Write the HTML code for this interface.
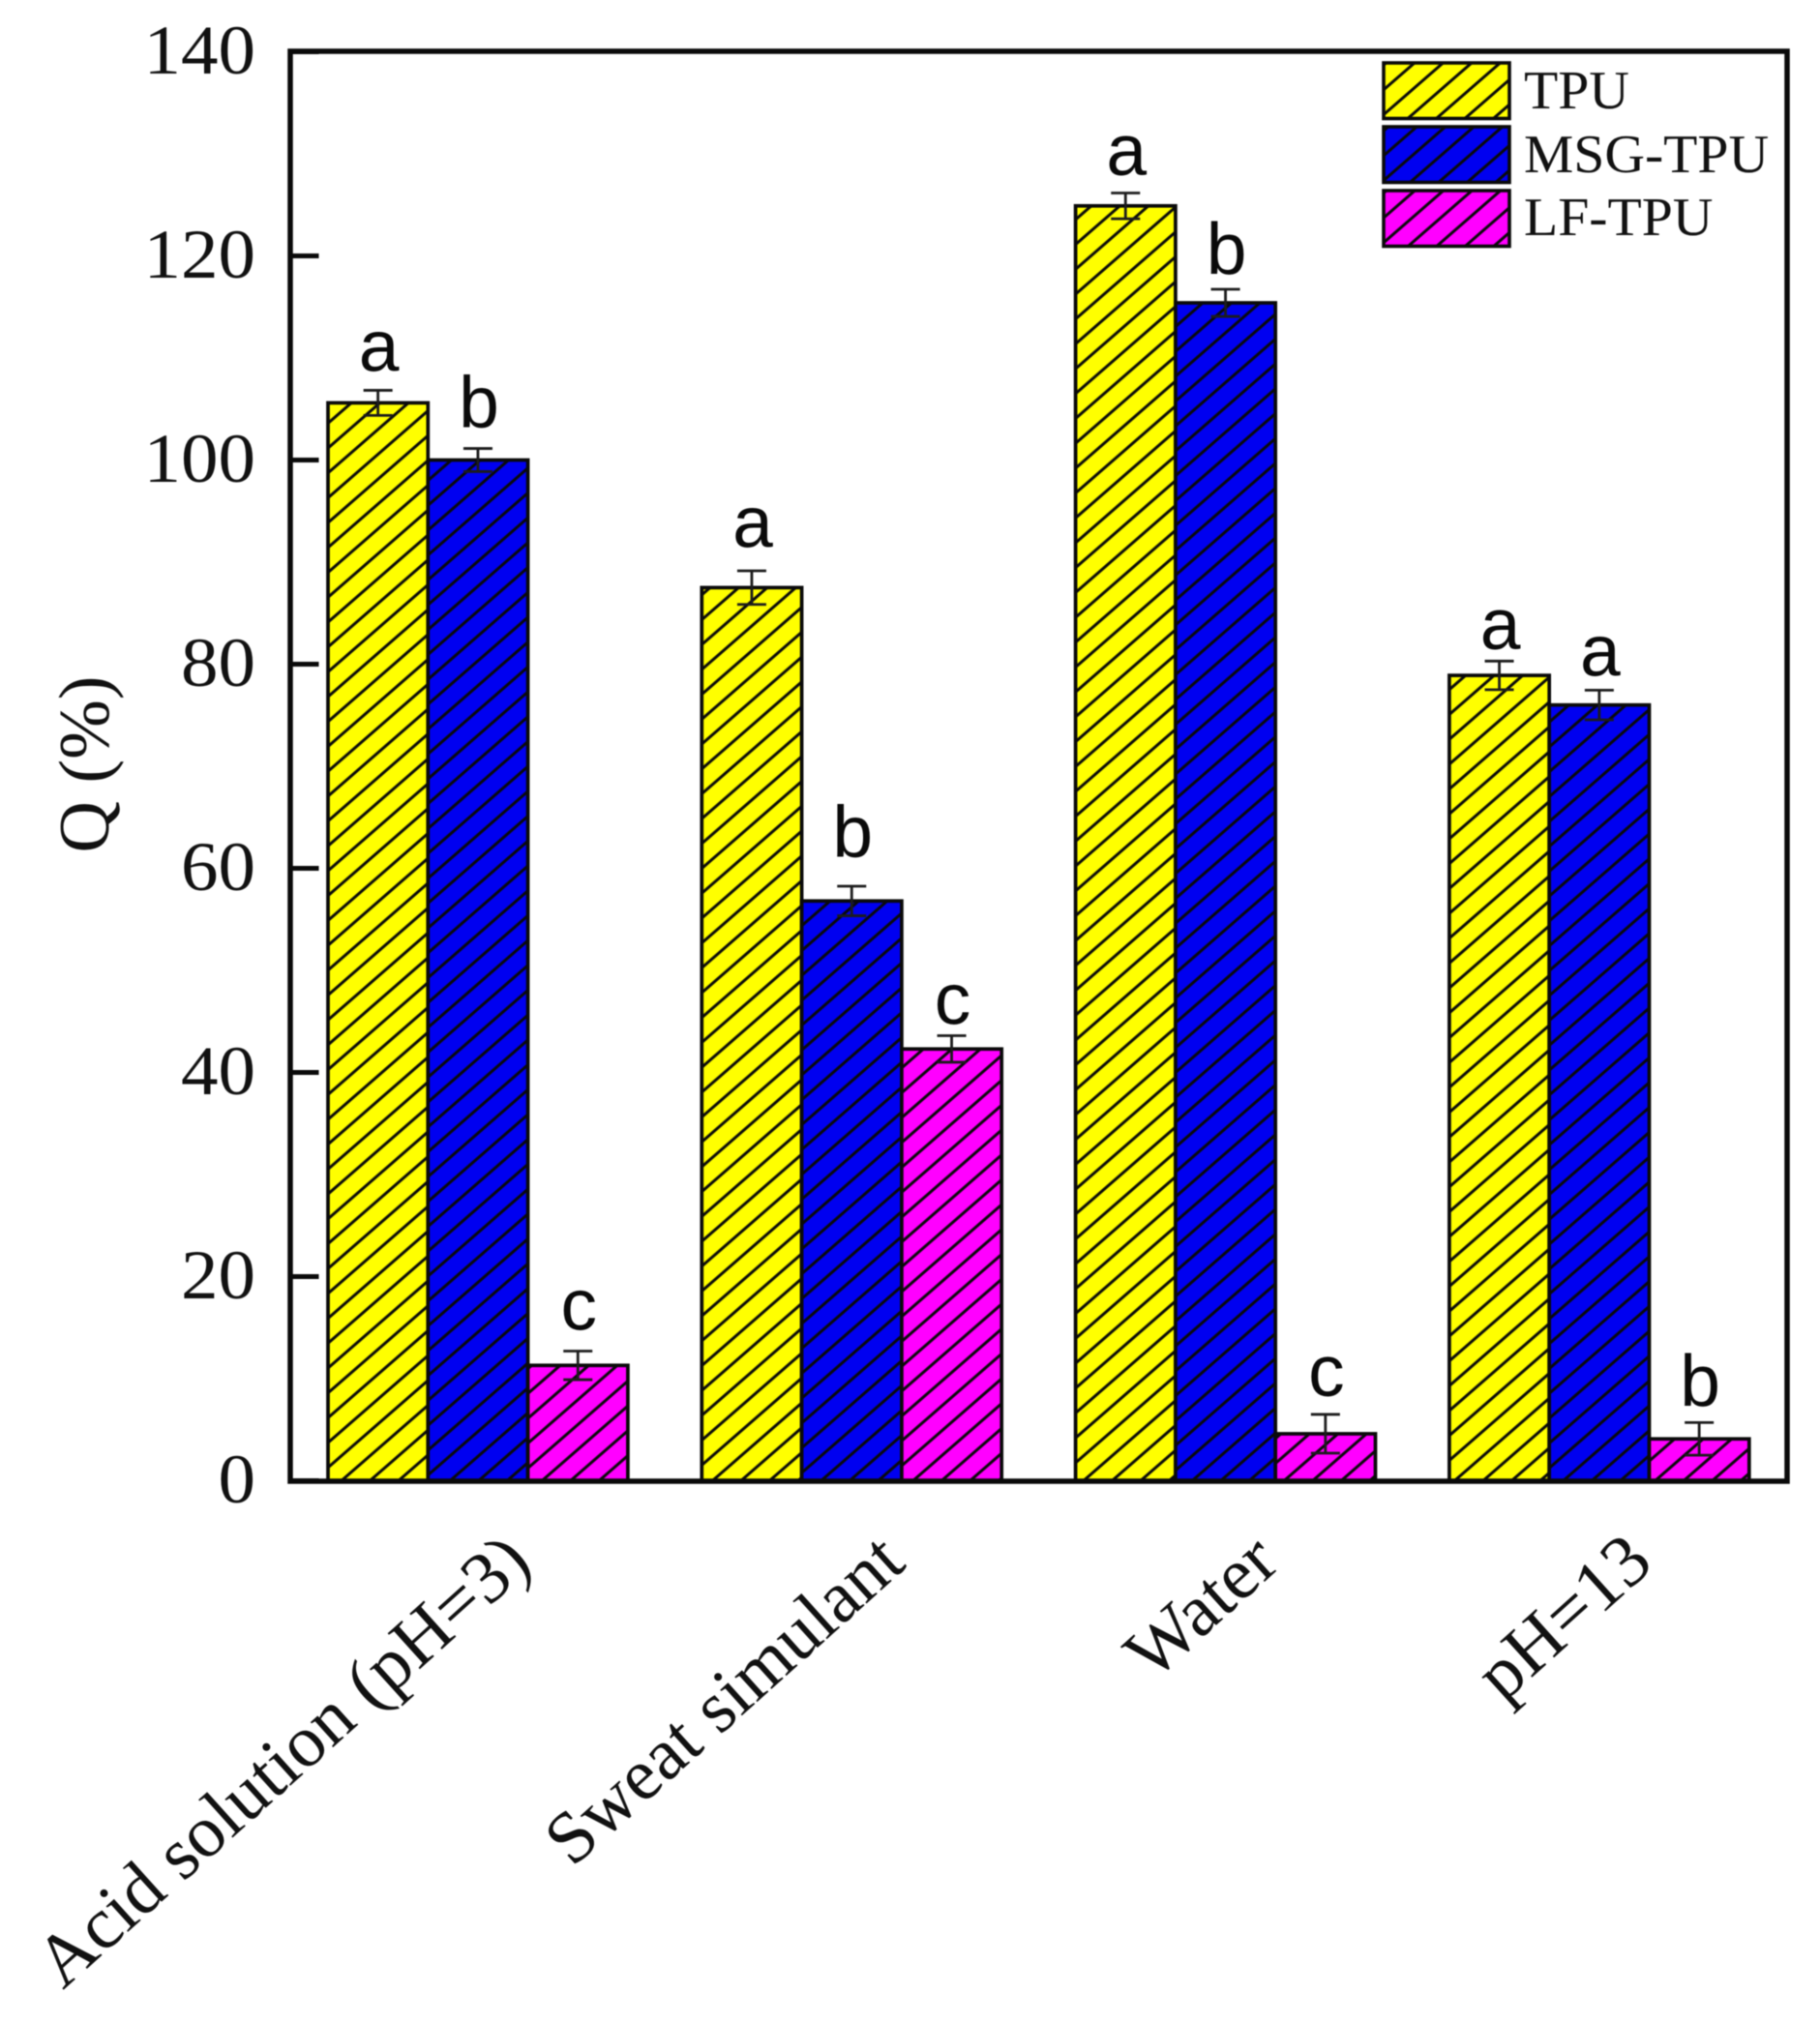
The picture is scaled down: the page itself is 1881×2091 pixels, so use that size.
<!DOCTYPE html>
<html lang="en">
<head>
<meta charset="utf-8">
<title>Q (%) by medium</title>
<style>
  html,body{margin:0;padding:0;background:#fff;width:1881px;height:2091px;overflow:hidden}
  svg{display:block;filter:blur(0.6px)}
  .serif{font-family:"Liberation Serif",serif;fill:#111}
  .sans{font-family:"Liberation Sans",sans-serif;fill:#0a0a0a}
</style>
</head>
<body>
<svg id="chart" xmlns="http://www.w3.org/2000/svg" width="1881" height="2091" viewBox="0 0 1881 2091">
  <defs id="defs"></defs>
  <rect width="1881" height="2091" fill="#fff"/>
  <g id="ticks"></g>
  <g id="bars"></g>
  <g id="errors"></g>
  <rect x="300" y="53" width="1547" height="1478" fill="none" stroke="#0a0a0a" stroke-width="5.5"/>
  <g id="letters"></g>
  <g id="xlabels"></g>
  <text class="serif" font-size="74" text-anchor="middle" transform="translate(112 790) rotate(-90)">Q (%)</text>
  <g>
    <g>
      <rect x="1430" y="65" width="130" height="57.5" fill="#ffff00"/>
      <rect x="1430" y="65" width="130" height="57.5" fill="url(#hatch-leg-0)" stroke="#0a0a0a" stroke-width="3.6"/>
      <text class="serif" font-size="56" transform="translate(1575 112) scale(1.03 1)">TPU</text>
    </g>
    <g>
      <rect x="1430" y="131" width="130" height="57.5" fill="#0000f0"/>
      <rect x="1430" y="131" width="130" height="57.5" fill="url(#hatch-leg-1)" stroke="#0a0a0a" stroke-width="3.6"/>
      <text class="serif" font-size="56" transform="translate(1575 178) scale(1.03 1)">MSG-TPU</text>
    </g>
    <g>
      <rect x="1430" y="197" width="130" height="57.5" fill="#ff00ff"/>
      <rect x="1430" y="197" width="130" height="57.5" fill="url(#hatch-leg-2)" stroke="#0a0a0a" stroke-width="3.6"/>
      <text class="serif" font-size="56" transform="translate(1575 243) scale(1.03 1)">LF-TPU</text>
    </g>
  </g>
</svg>
<script>
// ---- chart data ----
const categories = ["Acid solution (pH=3)", "Sweat simulant", "Water", "pH=13"];
const seriesNames = ["TPU", "MSG-TPU", "LF-TPU"];
const tpuValues = [105.6, 87.5, 124.9, 78.9];
const msgValues = [100.0, 56.8, 115.4, 76.0];
const lfValues = [11.3, 42.3, 4.6, 4.1];
const tpuErrors = [1.23, 1.65, 1.26, 1.40];
const msgErrors = [1.13, 1.45, 1.33, 1.45];
const lfErrors = [1.40, 1.30, 1.90, 1.60];
const tpuLetters = ["a", "a", "a", "a"];
const msgLetters = ["b", "b", "b", "a"];
const lfLetters = ["c", "c", "c", "b"];
// height of each significance letter above its error bar, in Q units
const tpuLetterLift = [1.9, 2.3, 1.75, 1.15];
const msgLetterLift = [2.1, 2.9, 1.5, 1.4];
const lfLetterLift = [2.1, 1.15, 1.8, 1.65];
const yTickLabels = [0, 20, 40, 60, 80, 100, 120, 140];

// ---- axes ----
const NS = "http://www.w3.org/2000/svg";
const yAxis = v => 1530.5 - v * 10.55;
const barWidth = 103.3;
const groupLeft = i => 339 + i * 386.3;
const barLeft = (i, s) => groupLeft(i) + s * barWidth;
const seriesColors = ["#ffff00", "#0000f0", "#ff00ff"];
const seriesKeys = ["tpu", "msg-tpu", "lf-tpu"];
const allValues = [tpuValues, msgValues, lfValues];
const allErrors = [tpuErrors, msgErrors, lfErrors];
const allLetters = [tpuLetters, msgLetters, lfLetters];
const allLifts = [tpuLetterLift, msgLetterLift, lfLetterLift];

function make(tag, attrs, parent, text) {
  const el = document.createElementNS(NS, tag);
  for (const k in attrs) el.setAttribute(k, attrs[k]);
  if (text !== undefined) el.textContent = text;
  parent.appendChild(el);
  return el;
}

// ---- hatch patterns ----
const defs = document.getElementById("defs");
function hatch(id, ox, oy) {
  const w = 29.5, h = 25.7;
  const p = make("pattern", {
    id: id, patternUnits: "userSpaceOnUse", width: w, height: h,
    patternTransform: "translate(" + ox + " " + oy + ")"
  }, defs);
  [-1, 0, 1].forEach(k => {
    make("line", {
      x1: k * w - 2, y1: h + 2 * h / w, x2: k * w + w + 2, y2: -2 * h / w,
      stroke: "#0a0a0a", "stroke-width": 3
    }, p);
  });
}
hatch("hatch-0", 355.7, 1528);
hatch("hatch-1", 468, 1528);
hatch("hatch-2", 563, 1528);
hatch("hatch-leg-0", 1457, 120.7);
hatch("hatch-leg-1", 1459, 187);
hatch("hatch-leg-2", 1457, 253);

// ---- y ticks and labels ----
const tickGroup = document.getElementById("ticks");
yTickLabels.forEach(v => {
  const tick = make("line", {
    x1: 300, x2: 329.5, y1: yAxis(v), y2: yAxis(v),
    stroke: "#0a0a0a", "stroke-width": 5
  }, tickGroup);
  
  
  const label = make("text", {
    "text-anchor": "end", "font-size": 72, class: "serif",
    transform: "translate(264 " + (yAxis(v) + 22.5) + ") scale(1.07 1)"
  }, tickGroup, String(v));
  
  
});

// ---- bars, error bars, letters ----
const barGroup = document.getElementById("bars");
const errGroup = document.getElementById("errors");
const letterGroup = document.getElementById("letters");
allValues.forEach((values, s) => {
  values.forEach((value, i) => {
    const x = barLeft(i, s);
    const top = yAxis(value);
    const bottom = yAxis(0);
    const fill = make("rect", { x: x, y: top, width: barWidth, height: bottom - top, fill: seriesColors[s] }, barGroup);
    
    
    const hatchRect = make("rect", {
      x: x, y: top, width: barWidth, height: bottom - top,
      fill: "url(#hatch-" + s + ")", stroke: "#0a0a0a", "stroke-width": 3.7
    }, barGroup);
    
    

    const cx = x + barWidth / 2;
    const err = allErrors[s][i];
    const hi = yAxis(value + err);
    const lo = yAxis(value - err);
    const eb = make("path", {
      d: "M" + (cx - 15) + " " + hi + "H" + (cx + 15) + "M" + cx + " " + hi + "V" + lo + "M" + (cx - 15) + " " + lo + "H" + (cx + 15),
      fill: "none", stroke: "#1c1c1c", "stroke-width": 2.8
    }, errGroup);
    
    

    const letter = make("text", {
      x: cx + 1, y: yAxis(value + err + allLifts[s][i]),
      "text-anchor": "middle", "font-size": 75, class: "sans"
    }, letterGroup, allLetters[s][i]);
    
    
  });
});

// ---- category labels ----
const xGroup = document.getElementById("xlabels");
categories.forEach((name, i) => {
  const cx = groupLeft(i) + barWidth * 1.5;
  const label = make("text", {
    "text-anchor": "end", "font-size": 76, class: "serif",
    transform: "translate(" + (cx + 58) + " 1619) rotate(-42)"
  }, xGroup, name);
  
  
});
</script>
</body>
</html>
